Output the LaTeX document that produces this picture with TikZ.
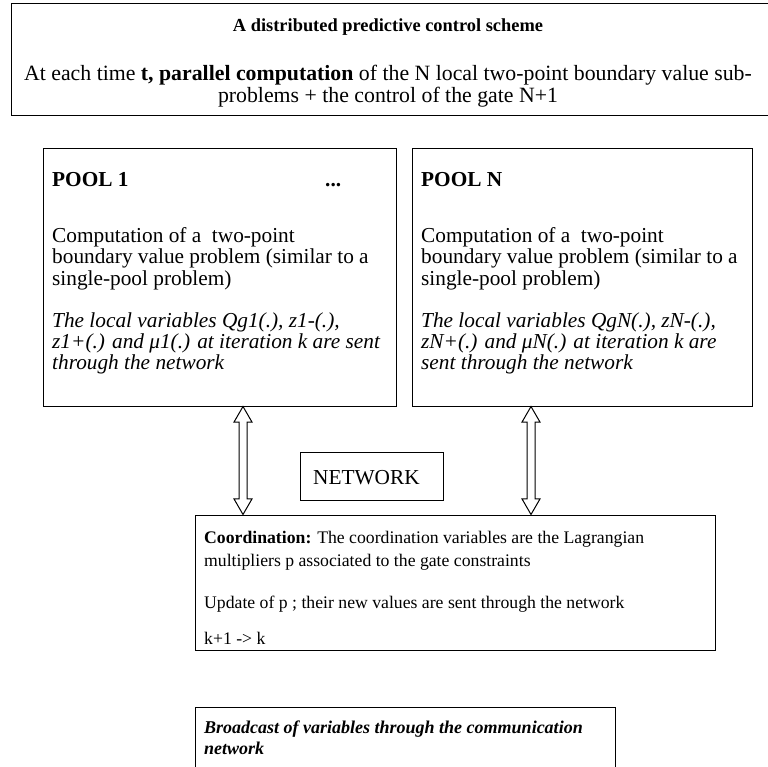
\documentclass[tikz,border=0pt]{standalone}
\usepackage{fontspec}
\setmainfont{Liberation Serif}
\usetikzlibrary{shapes.arrows}
\begin{document}
\begin{tikzpicture}[x=1pt,y=-1pt,
  box/.style={draw, line width=1.2pt, inner sep=0pt, anchor=north west},
  txt/.style={anchor=base west, inner sep=0pt, font=\fontsize{21.3}{22}\selectfont},
  ctxt/.style={anchor=base west, inner sep=0pt, font=\fontsize{17.7}{20}\selectfont},
  btxt/.style={anchor=base west, inner sep=0pt, font=\fontsize{18}{20}\selectfont\bfseries\itshape},
  ctr/.style={anchor=base, inner sep=0pt, font=\fontsize{21.8}{22}\selectfont},
  ttl/.style={anchor=base, inner sep=0pt, font=\fontsize{18.4}{20}\selectfont\bfseries},
  dblarr/.style={double arrow, draw, line width=1pt, rotate=90, minimum height=108pt,
    inner xsep=0pt, inner ysep=3.5pt, double arrow head extend=5pt, double arrow tip angle=60}]
\useasboundingbox (0,0) rectangle (768,767);
\clip (0,0) rectangle (768,767);

% boxes
\node[box, minimum width=790pt, minimum height=112pt] (top) at (11,3) {};
\node[box, minimum width=353pt, minimum height=258pt] (pool1) at (43,148) {};
\node[box, minimum width=340pt, minimum height=258pt] (poolN) at (412,148) {};
\node[box, minimum width=143pt, minimum height=48pt] (net) at (300,452) {};
\node[box, minimum width=520pt, minimum height=135pt] (coord) at (195,515) {};
\node[box, minimum width=420pt, minimum height=120pt] (bcast) at (195,707) {};

% top texts
\node[ttl] (t1) at (388,32) {A distributed predictive control scheme};
\node[ctr] (t2) at (388,81) {At each time \textbf{t, parallel computation} of the N local two-point boundary value sub-};
\node[ctr] (t3) at (388,103) {problems + the control of the gate N+1};

% pool 1
\node[txt] (p1a) at (52,187) {\bfseries POOL 1};
\node[txt] (p1dots) at (325,187) {\bfseries ...};
\node[txt] (p1b) at (52,243) {Computation of a\ \ two-point};
\node[txt] (p1c) at (52,264) {boundary value problem (similar to a};
\node[txt] (p1d) at (52,285) {single-pool problem)};
\node[txt] (p1e) at (52,327) {\itshape The local variables Qg1(.), z1-(.),};
\node[txt] (p1f) at (52,348) {\itshape z1+(.) and μ1(.) at iteration k are sent};
\node[txt] (p1g) at (52,369) {\itshape through the network};

% pool N
\node[txt] (pNa) at (421,187) {\bfseries POOL N};
\node[txt] (pNb) at (421,243) {Computation of a\ \ two-point};
\node[txt] (pNc) at (421,264) {boundary value problem (similar to a};
\node[txt] (pNd) at (421,285) {single-pool problem)};
\node[txt] (pNe) at (421,327) {\itshape The local variables QgN(.), zN-(.),};
\node[txt] (pNf) at (421,348) {\itshape zN+(.) and μN(.) at iteration k are};
\node[txt] (pNg) at (421,369) {\itshape sent through the network};

% network
\node[txt] (nett) at (313,484) {NETWORK};

% coordination
\node[ctxt] (c1) at (204,543) {\textbf{Coordination:} The coordination variables are the Lagrangian};
\node[ctxt] (c2) at (204,566) {multipliers p associated to the gate constraints};
\node[ctxt] (c3) at (204,608) {Update of p ; their new values are sent through the network};
\node[ctxt] (c4) at (204,644) {k+1 -> k};

% broadcast
\node[btxt] (b1) at (204,733) {Broadcast of variables through the communication};
\node[btxt] (b2) at (204,754) {network};

% double arrows
\node[dblarr] (a1) at (243,460.5) {};
\node[dblarr] (aN) at (531,460.5) {};
\end{tikzpicture}
\end{document}
